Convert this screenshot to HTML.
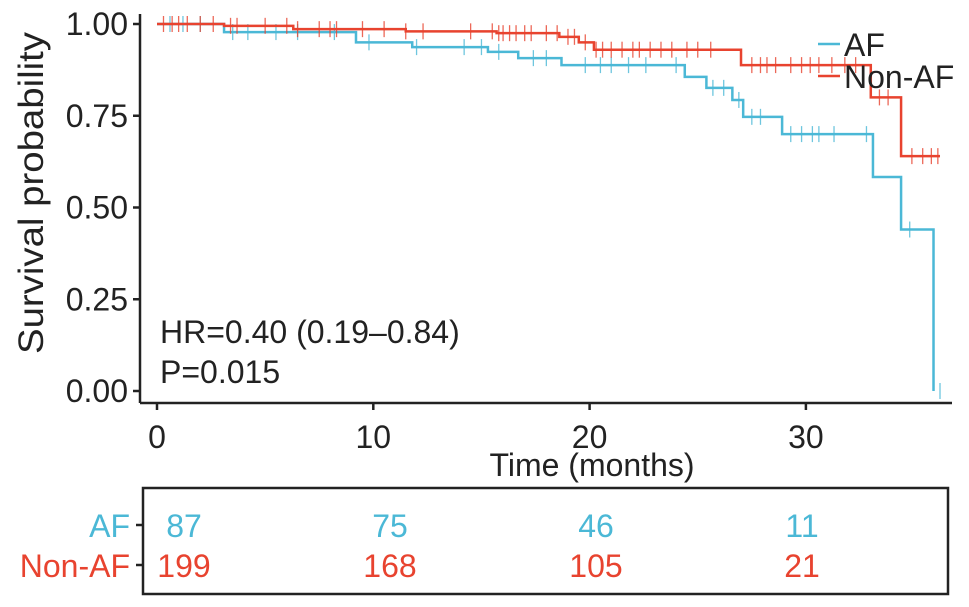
<!DOCTYPE html>
<html><head><meta charset="utf-8"><style>
body{margin:0;background:#fff;width:969px;height:607px;overflow:hidden}
svg{display:block;font-family:"Liberation Sans",Arial,sans-serif}
</style></head><body>
<svg id="c" width="969" height="607"></svg>
<script>
const afTimes=[0,3.1,9.2,11.8,15.3,16.7,18.7,24.4,25.4,26.6,27.1,28.9,33.1,34.4,35.9];
const afSurv=[1,0.978,0.95,0.937,0.924,0.907,0.888,0.856,0.826,0.793,0.747,0.70,0.583,0.44,0.0];
const afEnd=35.9;
const afCensor=[0.6,1.2,2,3.5,4.2,5.5,6.5,8.2,9.8,12,14.2,15,15.8,17.4,18,19.8,20.5,21,21.8,22.6,24,25.7,26.2,26.9,27.5,27.9,29.3,29.8,30.3,30.6,31.3,32.8,34.8,36.2];
const nonTimes=[0,3.1,6.3,11.5,15.7,18.6,19.5,20.2,27,33,34.4];
const nonSurv=[1,0.995,0.986,0.98,0.975,0.965,0.95,0.93,0.888,0.80,0.64];
const nonEnd=36.2;
const nonCensor=[0.3,0.7,1,1.4,2,2.6,3.4,3.7,5,6,6.5,7.5,8,8.3,9.5,10.5,11.5,12.3,14.5,15.5,15.8,16,16.3,16.6,17,17.3,18,18.5,19,19.3,19.8,20.3,20.6,21,21.5,22,22.3,22.8,23.3,23.8,24.5,25,25.6,27.5,27.9,28.2,28.6,29.3,29.8,30.2,30.6,31.2,31.8,32.3,33.4,33.8,34.9,35.4,35.8,36.1];
const xTicks=[0,10,20,30];
const yTicks=[0,0.25,0.5,0.75,1];
const yTickLabels=["0.00","0.25","0.50","0.75","1.00"];
const groups=["AF","Non-AF"];
const riskAF=[87,75,46,11];
const riskNon=[199,168,105,21];
const BLUE="#4bb8d6",RED="#e8432f";
const X=t=>157+t*21.63, Y=s=>391-s*367, RX=t=>184+t*20.6;
const FS=32;
const svg=document.getElementById('c'),NS="http://www.w3.org/2000/svg";
function mk(tag,at,txt){const e=document.createElementNS(NS,tag);for(const k in at)e.setAttribute(k,at[k]);if(txt!=null)e.textContent=txt;svg.appendChild(e);return e;}
function curve(times,surv,end,censor,color,name){
  let d="M"+X(times[0])+","+Y(surv[0]);
  for(let i=1;i<times.length;i++){d+="H"+X(times[i])+"V"+Y(surv[i]);}
  d+="H"+X(end);
  const p=mk('path',{d:d,fill:'none',stroke:color,'stroke-width':2.5});
  
  
  censor.forEach(t=>{let s=surv[0];for(let i=0;i<times.length;i++)if(times[i]<=t)s=surv[i];
    const l=mk('line',{x1:X(t),x2:X(t),y1:Y(s)-8,y2:Y(s)+8,stroke:color,'stroke-width':1.3,opacity:0.8});
    
    });
}
let a=mk('line',{x1:140,y1:14,x2:140,y2:403,stroke:'#222','stroke-width':2.5});

a=mk('line',{x1:140,y1:403,x2:952,y2:403,stroke:'#222','stroke-width':2.5});

yTicks.forEach((v,i)=>{mk('line',{x1:133,x2:140,y1:Y(v),y2:Y(v),stroke:'#222','stroke-width':2.5});
  const t=mk('text',{x:128,y:Y(v)+11,'text-anchor':'end','font-size':FS,fill:'#222'},yTickLabels[i]);
  });
xTicks.forEach(v=>{mk('line',{x1:X(v),x2:X(v),y1:403,y2:410,stroke:'#222','stroke-width':2.5});
  const t=mk('text',{x:X(v),y:448,'text-anchor':'middle','font-size':FS,fill:'#222'},v);
  });
let t=mk('text',{x:592,y:476,'text-anchor':'middle','font-size':FS,fill:'#222'},'Time (months)');

t=mk('text',{x:0,y:0,'text-anchor':'middle','font-size':35,fill:'#222',textLength:322,lengthAdjust:'spacingAndGlyphs',transform:'translate(43,193) rotate(-90)'},'Survival probability');

curve(afTimes,afSurv,afEnd,afCensor,BLUE,'af');
curve(nonTimes,nonSurv,nonEnd,nonCensor,RED,'non-af');
t=mk('text',{x:160,y:343,'font-size':FS,fill:'#222'},'HR=0.40 (0.19–0.84)');

t=mk('text',{x:160,y:383,'font-size':FS,fill:'#222'},'P=0.015');

[[BLUE,'AF',56],[RED,'Non-AF',88]].forEach(([c,l,y])=>{
  const ln=mk('line',{x1:818,x2:840,y1:y-12,y2:y-12,stroke:c,'stroke-width':2.5});
  
  const tx=mk('text',{x:844,y:y,'font-size':FS,fill:'#222'},l);
  });
const box=mk('rect',{x:143,y:488,width:805,height:106,fill:'none',stroke:'#222','stroke-width':2.5});

[[riskAF,BLUE,537,groups[0]],[riskNon,RED,577,groups[1]]].forEach(([arr,c,y,g])=>{
  mk('line',{x1:136,x2:143,y1:y-12,y2:y-12,stroke:'#222','stroke-width':2.5});
  const gl=mk('text',{x:130,y:y,'text-anchor':'end','font-size':FS,fill:c},g);
  
  arr.forEach((v,i)=>{const n=mk('text',{x:RX(xTicks[i]),y:y,'text-anchor':'middle','font-size':FS,fill:c},v);
    });
});
</script>
</body></html>
